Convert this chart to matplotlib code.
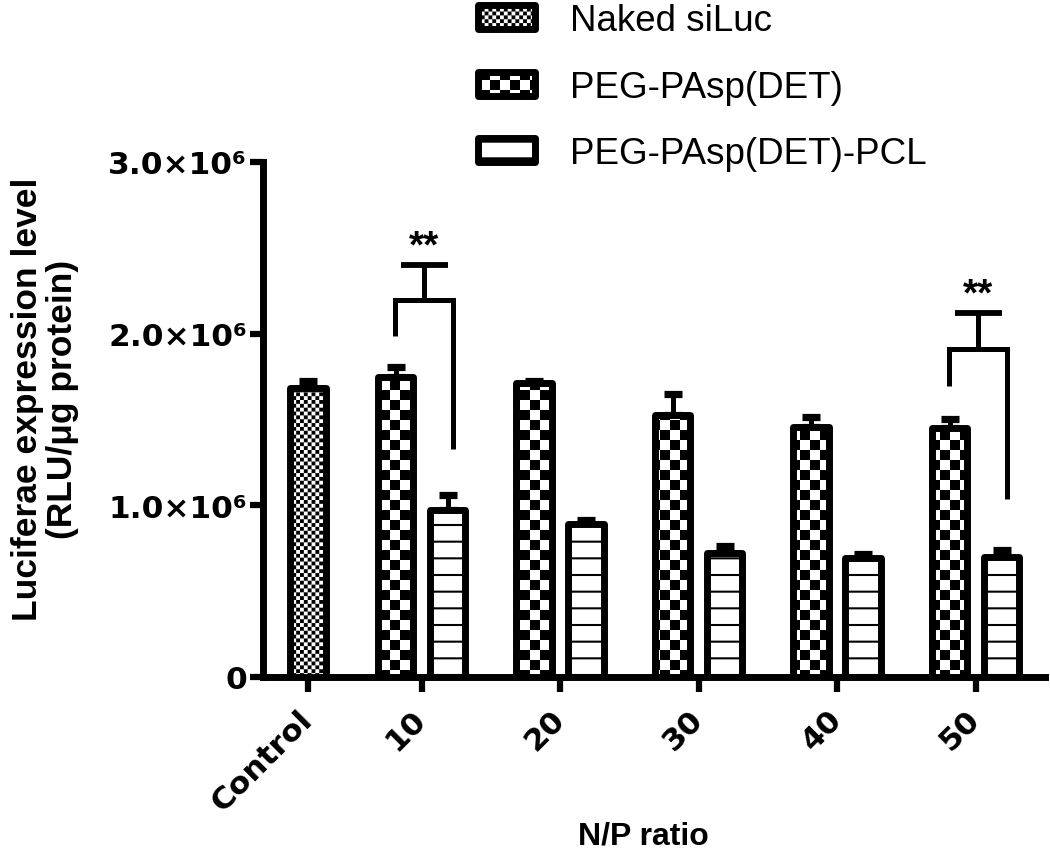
import warnings
import numpy as np
import matplotlib
matplotlib.use("Agg")
import matplotlib as mpl
import matplotlib.pyplot as plt
import matplotlib.hatch as mhatch
from matplotlib.path import Path

warnings.filterwarnings("ignore")

# ---------------- data ----------------
categories = ["Control", "10", "20", "30", "40", "50"]
series_names = ["Naked siLuc", "PEG-PAsp(DET)", "PEG-PAsp(DET)-PCL"]

naked_vals = [1.686e6]
naked_err = [0.041e6]

peg_vals = [1.747e6, 1.715e6, 1.529e6, 1.456e6, 1.450e6]
peg_err = [0.060e6, 0.012e6, 0.117e6, 0.058e6, 0.052e6]

pcl_vals = [0.973e6, 0.891e6, 0.725e6, 0.693e6, 0.699e6]
pcl_err = [0.087e6, 0.023e6, 0.038e6, 0.023e6, 0.040e6]

sig_groups = ["10", "50"]
sig_labels = ["**", "**"]
sig_bracket = [2.196e6, 1.910e6]
sig_cap = [2.402e6, 2.120e6]
sig_left_end = [1.986e6, 1.695e6]
sig_right_end = [1.328e6, 1.037e6]

yticks = [0, 1e6, 2e6, 3e6]
ytick_labels = ["0", "1.0×10⁶", "2.0×10⁶", "3.0×10⁶"]
xlabel = "N/P ratio"
ylabel = "Luciferae expression level\n(RLU/μg protein)"


# ---------------- custom checkerboard hatches ----------------
class _CheckerHatch(mhatch.HatchPatternBase):
    symbol = "c"
    cells = 10

    def __init__(self, hatch, density):
        n = self.cells
        self.num_vertices = (n * n // 2) * 5 if hatch.count(self.symbol) else 0

    def set_vertices_and_codes(self, vertices, codes):
        n = self.cells
        d = mpl.rcParams["hatch.linewidth"] / 72.0 / 2.0
        step = 1.0 / n
        k = 0
        for i in range(n):
            for j in range(n):
                if (i + j) % 2 == 0:
                    x0, y0 = i * step + d, j * step + d
                    x1, y1 = (i + 1) * step - d, (j + 1) * step - d
                    vertices[k:k + 5] = [(x0, y0), (x1, y0), (x1, y1), (x0, y1), (x0, y0)]
                    codes[k:k + 5] = [Path.MOVETO, Path.LINETO, Path.LINETO,
                                      Path.LINETO, Path.CLOSEPOLY]
                    k += 5


class _FineCheckerHatch(_CheckerHatch):
    symbol = "k"
    cells = 26


mhatch._hatch_types.append(_CheckerHatch)
mhatch._hatch_types.append(_FineCheckerHatch)

plt.rcParams["hatch.linewidth"] = 1.5

# ---------------- figure ----------------
W, H = 1050, 854
fig = plt.figure(figsize=(W / 100, H / 100), dpi=100)
ax = fig.add_axes([263 / W, 1 - 678 / H, (1045 - 263) / W, (678 - 163) / H])

pos = np.concatenate([[0.0], 0.82 + np.arange(len(categories) - 1)])
bw = 0.256
off = 0.188

common = dict(width=bw, edgecolor="black", facecolor="white", linewidth=5,
              joinstyle="round", zorder=3)
b0 = ax.bar(pos[:1], naked_vals, hatch="k", **common)
b1 = ax.bar(pos[1:] - off, peg_vals, hatch="c", **common)
b2 = ax.bar(pos[1:] + off, pcl_vals, hatch="-", **common)

eb = dict(fmt="none", ecolor="black", elinewidth=3.6, capsize=6.3, capthick=5.2, zorder=2.5)
ax.errorbar(pos[:1], naked_vals, yerr=[np.zeros(1), naked_err], **eb)
ax.errorbar(pos[1:] - off, peg_vals, yerr=[np.zeros(len(peg_vals)), peg_err], **eb)
ax.errorbar(pos[1:] + off, pcl_vals, yerr=[np.zeros(len(pcl_vals)), pcl_err], **eb)

# significance brackets
for g, lab, yb, yc, yl, yr in zip(sig_groups, sig_labels, sig_bracket, sig_cap,
                                   sig_left_end, sig_right_end):
    xc = pos[categories.index(g)] + 0.02
    xl, xr = xc - 0.21, xc + 0.21
    ax.plot([xl, xl, xr, xr], [yl, yb, yb, yr], color="black", lw=3.6,
            solid_joinstyle="miter", solid_capstyle="butt", zorder=4)
    ax.plot([xc, xc], [yb, yc], color="black", lw=3.6, solid_capstyle="butt", zorder=4)
    ax.plot([xc - 0.17, xc + 0.17], [yc, yc], color="black", lw=4.2,
            solid_capstyle="butt", zorder=4)
    ax.annotate(lab, (xc, yc), xytext=(0, 6), textcoords="offset points",
                ha="center", va="baseline", fontsize=28, fontweight="bold",
                family="Liberation Sans")

# axes styling
ax.set_xlim(-0.325, 5.321)
ax.set_ylim(0, 3e6)
for s in ("top", "right"):
    ax.spines[s].set_visible(False)
for s in ("left", "bottom"):
    ax.spines[s].set_linewidth(5)
    ax.spines[s].set_capstyle("projecting")

ax.set_yticks(yticks, ytick_labels, fontfamily="DejaVu Sans", fontweight="bold",
              fontsize=22.5)
ax.set_xticks(pos, categories, rotation=45, ha="right", va="center",
              rotation_mode="anchor", fontfamily="DejaVu Sans", fontweight="bold",
              fontsize=22.5)
ax.tick_params(axis="y", length=9.5, width=4.5, pad=2, color="black")
ax.tick_params(axis="x", length=11, width=4.5, pad=16, color="black")

ax.set_ylabel(ylabel, family="Liberation Sans", fontweight="bold", fontsize=25.5,
              linespacing=1.1, va="center", ha="center")
ax.yaxis.set_label_coords((45 - 263) / 782, (678 - 399) / 515)
ax.set_xlabel(xlabel, family="Liberation Sans", fontweight="bold", fontsize=23,
              va="baseline")
ax.xaxis.set_label_coords((643 - 263) / 782, (678 - 845) / 515)

leg = ax.legend(handles=[b0, b1, b2], labels=series_names, loc="upper left",
                bbox_to_anchor=(478 / W, 1 - 4 / H), bbox_transform=fig.transFigure,
                frameon=False, prop=dict(family="Liberation Sans", size=26.5),
                handlelength=1.55, handleheight=0.63, handletextpad=0.95,
                labelspacing=0.86, borderpad=0, borderaxespad=0)
for h in leg.legend_handles:
    h.set_joinstyle("round")

fig.savefig("out.png", dpi=100)
